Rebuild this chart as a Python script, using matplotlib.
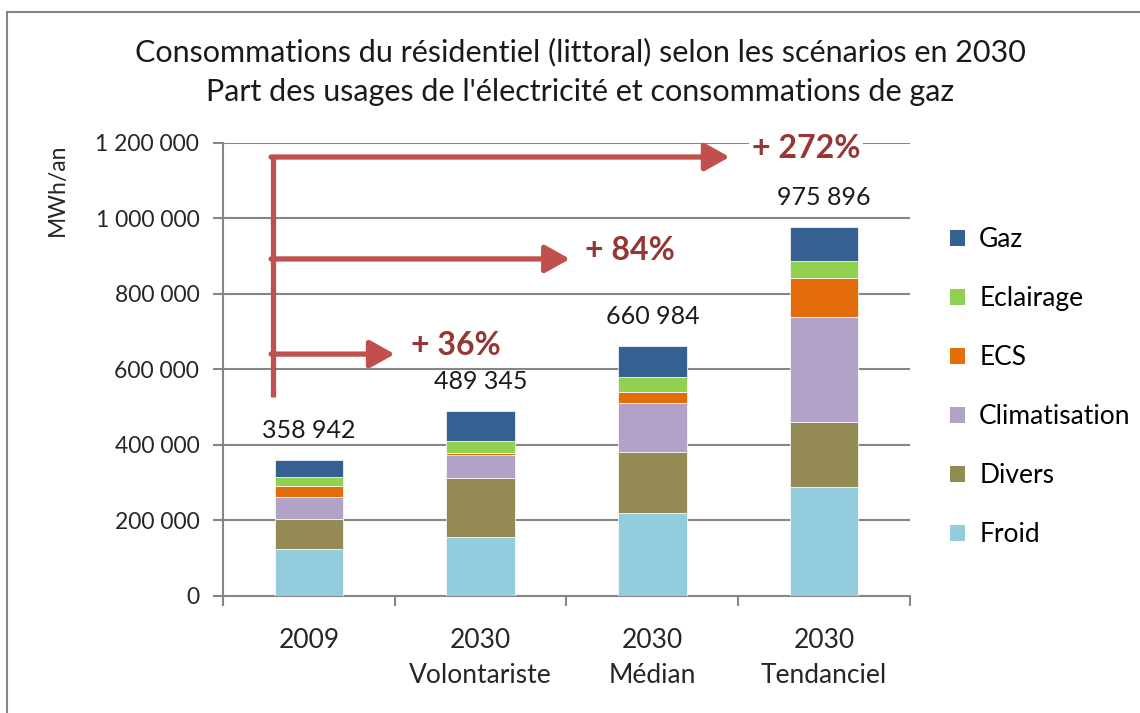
import matplotlib
matplotlib.use('Agg')
import matplotlib.pyplot as plt
from matplotlib.patches import Rectangle, Patch
import numpy as np

plt.rcParams['font.family'] = ['Lato', 'DejaVu Sans']

# data (MWh/an)
scenarios = ['2009', '2030\nVolontariste', '2030\nMédian', '2030\nTendanciel']
totals = [358942, 489345, 660984, 975896]
froid = [124000, 155500, 219000, 288000]
divers = [78000, 157000, 162500, 173000]
climatisation = [59500, 60000, 128500, 276500]
ecs = [30000, 4500, 30000, 104500]
eclairage = [22500, 32000, 38500, 44000]
gaz = [44942, 80345, 82484, 89896]

series_names = ['Froid', 'Divers', 'Climatisation', 'ECS', 'Eclairage', 'Gaz']
series_colors = ['#93CDDD', '#948A54', '#B3A2C7', '#E46C0A', '#92D050', '#376092']

growth_labels = ['+ 36%', '+ 84%', '+ 272%']

fig = plt.figure(figsize=(11.4, 7.13), dpi=100)
ax = fig.add_axes([0.1956, 0.1645, 0.6026, 0.6354])

# chart border
fig.patches.append(Rectangle((7 / 1140, -0.1), 1.2, 1 - 12 / 713 + 0.1,
                             transform=fig.transFigure, fill=False,
                             edgecolor='#868686', lw=1.5))

x = np.arange(len(scenarios))
bottom = np.zeros(len(scenarios))
for name, vals, col in zip(series_names,
                           [froid, divers, climatisation, ecs, eclairage, gaz],
                           series_colors):
    ax.bar(x, vals, width=0.4, bottom=bottom, color=col,
           edgecolor='white', linewidth=0.5, zorder=3, label=name)
    bottom += np.array(vals)

for xi, t in zip(x, totals):
    ax.annotate(f"{t:,}".replace(',', ' '), (xi, t), xytext=(0, 13),
                textcoords='offset points', ha='center', va='bottom',
                fontsize=18, color='#1a1a1a')

# growth arrows
arrow_col = '#C0504D'
x0 = -0.21
arrow_y = [640000, 892000, 1162000]
arrow_tip = [0.50, 1.52, 2.45]
text_x = [0.595, 1.61, 2.58]
ax.plot([x0, x0], [526000, 1162000 + 6000], color=arrow_col, lw=3.8,
        solid_capstyle='butt', zorder=5)
for y, tip, tx, lab in zip(arrow_y, arrow_tip, text_x, growth_labels):
    ax.annotate('', xy=(tip, y), xytext=(x0 - 0.01, y),
                arrowprops=dict(arrowstyle='-|>,head_length=0.75,head_width=0.42',
                                color=arrow_col, lw=3.8, shrinkA=0, shrinkB=0,
                                mutation_scale=20),
                zorder=5)
    ax.text(tx, y + 22000, lab, ha='left', va='center', fontsize=23,
            fontweight='bold', color='#953735', zorder=6,
            bbox=dict(facecolor='white', edgecolor='none', pad=2))

ax.set_xlim(-0.5, 3.5)
ax.set_ylim(0, 1200000)
ax.set_yticks(np.arange(0, 1200001, 200000))
ax.set_yticklabels([f"{v:,}".replace(',', ' ') for v in range(0, 1200001, 200000)],
                   fontsize=16.5, color='#262626')
ax.set_xticks(x)
ax.set_xticklabels(scenarios, fontsize=19, color='#262626', linespacing=1.5)
ax.set_xticks(np.arange(-0.5, 4, 1), minor=True)
ax.tick_params(axis='x', which='major', length=0, pad=23)
ax.tick_params(axis='x', which='minor', length=7, width=1.5, color='#868686',
               direction='out')
ax.tick_params(axis='y', length=7, width=1.5, color='#868686', pad=10)

ax.grid(axis='y', color='#868686', lw=1.5, zorder=0)
for s in ['top', 'right']:
    ax.spines[s].set_visible(False)
for s in ['left', 'bottom']:
    ax.spines[s].set_color('#868686')
    ax.spines[s].set_linewidth(1.5)

fig.text(57 / 1140, 1 - 190 / 713, 'MWh/an', rotation=90, ha='center',
         va='center', fontsize=16.5, color='#262626')

fig.text(580 / 1140, 1 - 52 / 713,
         "Consommations du résidentiel (littoral) selon les scénarios en 2030",
         ha='center', va='center', fontsize=22, color='#1a1a1a')
fig.text(580 / 1140, 1 - 92 / 713,
         "Part des usages de l'électricité et consommations de gaz",
         ha='center', va='center', fontsize=22, color='#1a1a1a')

handles = [Patch(facecolor=c, edgecolor='none') for c in series_colors][::-1]
ax.legend(handles, series_names[::-1], loc='upper left',
          bbox_to_anchor=(937 / 1140, 1 - 214 / 713),
          bbox_transform=fig.transFigure, frameon=False, fontsize=19,
          handlelength=0.55, handleheight=0.55, handletextpad=0.55,
          labelspacing=1.29, borderpad=0)

fig.savefig('out.png', dpi=100)
